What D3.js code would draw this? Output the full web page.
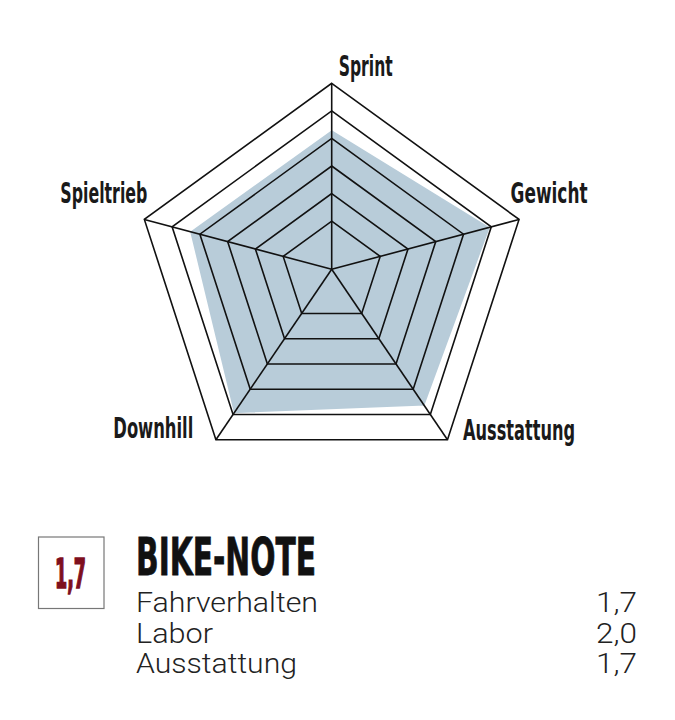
<!DOCTYPE html>
<html>
<head>
<meta charset="utf-8">
<script src="https://cdn.jsdelivr.net/npm/d3@7"></script>
<style>
  body { margin: 0; background: #fff; }
  svg { display: block; }
</style>
</head>
<body>
<svg id="chart"></svg>
<script>
// radar data
var axes = ["Sprint", "Gewicht", "Ausstattung", "Downhill", "Spieltrieb"];
var values = [4.35, 5.0, 4.7, 5.0, 4.4];
var levels = [1, 2, 3, 4, 5, 6];

// score block
var noteTitle = "BIKE-NOTE";
var totalNote = "1,7";
var noteRows = ["Fahrverhalten", "Labor", "Ausstattung"];
var noteValues = ["1,7", "2,0", "1,7"];

var svgWidth = 675, svgHeight = 720;

var svg = d3.select("#chart")
    .attr("width", svgWidth)
    .attr("height", svgHeight);

// pentagon is regular around center, spokes meet at hub (a bit higher)
var hub = [331.7, 269.3], center = [331.7, 280.3], R = 197;

var angle = d3.scaleLinear()
    .domain([0, axes.length])
    .range([0, 2 * Math.PI]);

var rScale = d3.scaleLinear()  // level -> fraction of spoke
    .domain([1, 6])
    .range([0.259, 1]);

function vertex(i) {
    var a = angle(i);
    return [center[0] + R * Math.sin(a), center[1] - R * Math.cos(a)];
}
function pt(i, v) {
    var o = vertex(i), t = rScale(v);
    return [hub[0] + t * (o[0] - hub[0]), hub[1] + t * (o[1] - hub[1])];
}

var line = d3.line().curve(d3.curveLinearClosed);

// data area
svg.append("path")
    .attr("d", line(values.map(function(v, i) { return pt(i, v); })))
    .attr("fill", "#b8ccd9")
    .attr("stroke", "#fff")
    .attr("stroke-width", 2.5)
    .attr("stroke-linejoin", "round");

// rings
svg.selectAll(".ring")
    .data(levels)
    .enter()
    .append("path")
    .attr("class", "ring")
    .attr("d", function(l) { return line(axes.map(function(a, i) { return pt(i, l); })); })
    .attr("fill", "none")
    .attr("stroke", "#111")
    .attr("stroke-width", 1.6)
    .attr("stroke-linejoin", "miter");

// spokes
svg.selectAll(".spoke")
    .data(axes)
    .enter()
    .append("line")
    .attr("class", "spoke")
    .attr("x1", hub[0])
    .attr("y1", hub[1])
    .attr("x2", function(d, i) { return vertex(i)[0]; })
    .attr("y2", function(d, i) { return vertex(i)[1]; })
    .attr("stroke", "#111")
    .attr("stroke-width", 1.6);

// axis labels: [dx, dy, anchor, width]
var labelPos = [[7, -7, "start", 54], [-8.5, -16, "start", 77], [15.5, 0.5, "start", 112],
                [-22.6, -1.5, "end", 80], [3, -16, "end", 87]];

svg.selectAll(".axis-label")
    .data(axes)
    .enter()
    .append("text")
    .attr("class", "axis-label")
    .attr("x", function(d, i) { return vertex(i)[0] + labelPos[i][0]; })
    .attr("y", function(d, i) { return vertex(i)[1] + labelPos[i][1]; })
    .attr("text-anchor", function(d, i) { return labelPos[i][2]; })
    .attr("textLength", function(d, i) { return labelPos[i][3]; })
    .attr("lengthAdjust", "spacingAndGlyphs")
    .attr("font-family", "'Liberation Sans Narrow', 'DejaVu Sans Condensed', sans-serif")
    .attr("font-weight", "bold")
    .attr("font-size", 29)
    .attr("fill", "#1a1a1a")
    .text(function(d) { return d; });

// note box
svg.append("rect")
    .attr("x", 38.5).attr("y", 537)
    .attr("width", 65.5).attr("height", 71.5)
    .attr("fill", "#fff")
    .attr("stroke", "#777")
    .attr("stroke-width", 1.2);

svg.append("text")
    .attr("x", 70.5).attr("y", 588)
    .attr("text-anchor", "middle")
    .attr("textLength", 31)
    .attr("lengthAdjust", "spacingAndGlyphs")
    .attr("font-family", "'Liberation Sans Narrow', 'DejaVu Sans Condensed', sans-serif")
    .attr("font-weight", "bold")
    .attr("font-size", 40)
    .attr("fill", "#7e0f1e")
    .attr("stroke", "#7e0f1e")
    .attr("stroke-width", 1.6)
    .text(totalNote);

svg.append("text")
    .attr("x", 136).attr("y", 575)
    .attr("textLength", 180)
    .attr("lengthAdjust", "spacingAndGlyphs")
    .attr("font-family", "'Liberation Sans Narrow', 'DejaVu Sans Condensed', sans-serif")
    .attr("font-weight", "bold")
    .attr("font-size", 51)
    .attr("fill", "#111")
    .attr("stroke", "#111")
    .attr("stroke-width", 0.8)
    .text(noteTitle);

var rowY = d3.scalePoint()
    .domain(noteRows)
    .range([612, 673]);

var rowWidths = [182, 77, 161];

svg.selectAll(".row-label")
    .data(noteRows)
    .enter()
    .append("text")
    .attr("class", "row-label")
    .attr("x", 136)
    .attr("y", function(d) { return rowY(d); })
    .attr("textLength", function(d, i) { return rowWidths[i]; })
    .attr("lengthAdjust", "spacingAndGlyphs")
    .attr("font-family", "Roboto, 'Open Sans', sans-serif")
    .attr("font-weight", 300)
    .attr("font-size", 27)
    .attr("fill", "#222")
    .text(function(d) { return d; });

svg.selectAll(".row-value")
    .data(noteValues)
    .enter()
    .append("text")
    .attr("class", "row-value")
    .attr("x", 637)
    .attr("y", function(d, i) { return rowY(noteRows[i]); })
    .attr("text-anchor", "end")
    .attr("textLength", 41)
    .attr("lengthAdjust", "spacingAndGlyphs")
    .attr("font-family", "Roboto, 'Open Sans', sans-serif")
    .attr("font-weight", 300)
    .attr("font-size", 27)
    .attr("fill", "#222")
    .text(function(d) { return d; });
</script>
</body>
</html>
